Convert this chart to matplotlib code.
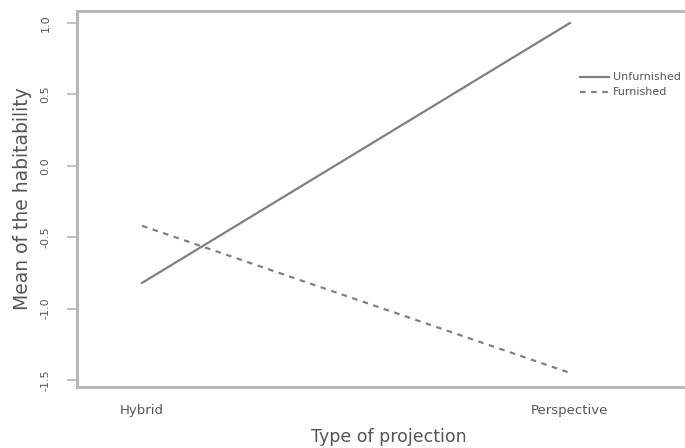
import numpy as np
import matplotlib.pyplot as plt

## Data

projection = ['Hybrid', 'Perspective']
unfurnished = [-0.82, 1.00]
furnished = [-0.42, -1.45]
y_ticks = [-1.5, -1.0, -0.5, 0.0, 0.5, 1.0]

## Figure

grey_txt = '#555555'
grey_axis = '#b8b8b8'
grey_line = '#808080'

fig = plt.figure(figsize=(6.85, 4.48), dpi=100)
ax = fig.add_axes([77/685, 1 - 387/448, (700-77)/685, (387-11)/448])

x = np.arange(1, len(projection) + 1)
ax.plot(x, unfurnished, '-', color=grey_line, lw=1.6, label='Unfurnished')
ax.plot(x, furnished, '--', color=grey_line, lw=1.6, dashes=(2.5, 2.5), label='Furnished')

ax.set_xlim(0.848, 2.304)
ax.set_ylim(-1.549, 1.084)

ax.set_xticks(x)
ax.set_xticklabels(projection, fontsize=9.5, color=grey_txt)
ax.tick_params(axis='x', length=0, pad=12)

ax.set_yticks(y_ticks)
ax.set_yticklabels(['%.1f' % v for v in y_ticks], fontsize=8, color=grey_txt,
                   rotation=90, va='center')
ax.tick_params(axis='y', length=7, width=1.2, color=grey_axis, pad=12)

for s in ax.spines.values():
    s.set_color(grey_axis)
    s.set_linewidth(2.2)
ax.spines['right'].set_visible(False)

ax.set_xlabel('Type of projection', fontsize=12.5, color=grey_txt, labelpad=8)
ax.set_ylabel('Mean of the habitability', fontsize=13.5, color=grey_txt, labelpad=6)

fig.legend(loc='upper left', bbox_to_anchor=(576/685, 1 - 68/448), frameon=False,
           fontsize=8, handlelength=2.6, handletextpad=0.3, labelspacing=0.45,
           labelcolor=grey_txt, borderaxespad=0)

fig.savefig('out.png', dpi=100)
